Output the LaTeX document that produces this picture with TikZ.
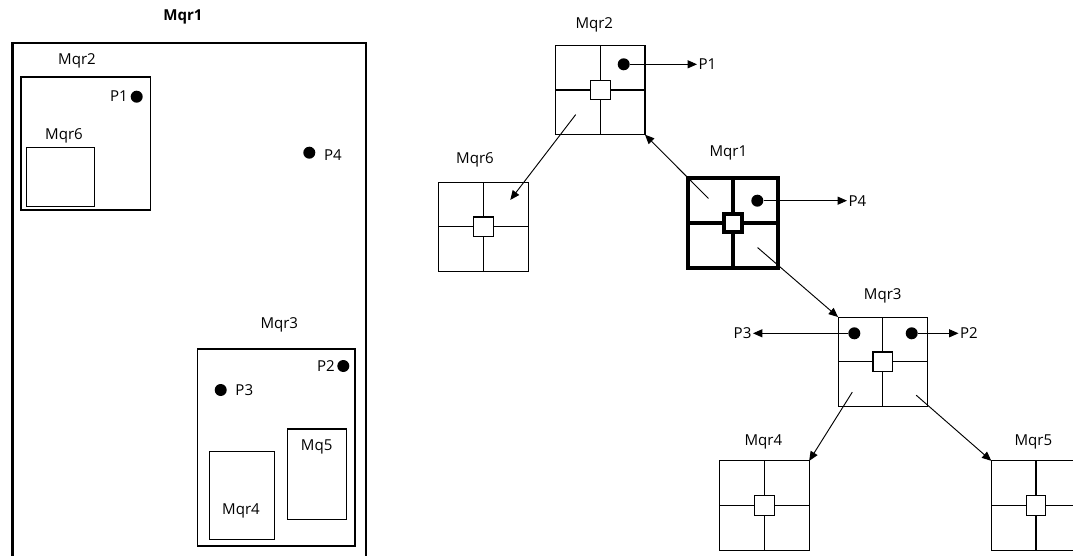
\documentclass[tikz,border=0pt]{standalone}
\usepackage{fontspec}
\setmainfont{Open Sans}
\usepackage{tikz}
\usetikzlibrary{arrows.meta}
\usetikzlibrary{calc}
\tikzset{
  quadro/.style={draw, line width=#1, minimum size=67pt, inner sep=0pt, outer sep=0pt,
    path picture={\draw[line width=#1] (path picture bounding box.north) -- (path picture bounding box.south)
      (path picture bounding box.west) -- (path picture bounding box.east);}},
  quadro/.default=0.8pt,
  centro/.style={draw, fill=white, line width=#1, minimum size=14.6pt, inner sep=0pt, outer sep=0pt},
  centro/.default=0.8pt,
  ponto/.style={circle, fill=black, minimum size=9pt, inner sep=0pt},
  rotulo/.style={inner sep=1pt},
  regiao/.style={draw, line width=0.8pt},
  moldura/.style={draw, line width=2.2pt, line join=miter},
  seta/.style={-{Triangle[length=7pt,width=6pt]}, line width=0.7pt},
}
\begin{document}
\begin{tikzpicture}[x=0.75pt, y=-0.75pt, font=\fontsize{11.3}{13.5}\selectfont]
  \useasboundingbox (0,0) rectangle (1073,556);
  \clip (0,0) rectangle (1073,556);
  % regioes (lado esquerdo)
  \node[rotulo, font=\fontsize{11.3}{13.5}\selectfont\bfseries] (tm1) at (183,17) {Mqr1};
  \draw[moldura] (12.5,560) -- (12.5,43) -- (366,43) -- (366,560);
  \draw[regiao] (21,77) rectangle (150.7,210);
  \draw[regiao] (26.7,147.7) rectangle (94.3,206.7);
  \draw[regiao] (197.3,349) rectangle (355,546);
  \draw[regiao] (287.3,429) rectangle (346.7,519.3);
  \draw[regiao] (209.3,451.7) rectangle (274.7,539.3);
  \node[rotulo] (tm2) at (77,61) {Mqr2};
  \node[rotulo] (tm6) at (64,136) {Mqr6};
  \node[rotulo] (tm3) at (279.3,325) {Mqr3};
  \node[rotulo] (tm5) at (316.7,446.7) {Mq5};
  \node[rotulo] (tm4) at (241,510.7) {Mqr4};
  \node[ponto] (p1) at (136.7,96.7) {};
  \node[rotulo] (lp1) at (119,96.5) {P1};
  \node[ponto] (p4) at (309.3,152.7) {};
  \node[rotulo] (lp4) at (333,155) {P4};
  \node[ponto] (p2) at (343.3,366) {};
  \node[rotulo] (lp2) at (326,366) {P2};
  \node[ponto] (p3) at (220.7,390) {};
  \node[rotulo] (lp3) at (244.3,390) {P3};

  % arvore (lado direito)
  \node[quadro] (q2) at (600.3,90) {};
  \node[centro] (c2) at (q2) {};
  \node[rotulo] (n2) at (594.3,25) {Mqr2};
  \node[quadro] (q6) at (483.5,226.7) {};
  \node[centro] (c6) at (q6) {};
  \node[rotulo] (n6) at (475,160) {Mqr6};
  \node[quadro=3pt] (q1) at (733,223) {};
  \node[centro=3pt, minimum size=13.2pt] (c1) at (q1) {};
  \node[rotulo] (n1) at (728.3,153.3) {Mqr1};
  \node[quadro] (q3) at (882.7,361.7) {};
  \node[centro] (c3) at (q3) {};
  \node[rotulo] (n3) at (882.7,296) {Mqr3};
  \node[quadro] (q4) at (764.5,505.5) {};
  \node[centro] (c4) at (q4) {};
  \node[rotulo] (n4) at (763.3,441.7) {Mqr4};
  \node[quadro] (q5) at (1036,505.5) {};
  \node[centro] (c5) at (q5) {};
  \node[rotulo] (n5) at (1033.3,441.7) {Mqr5};

  % pontos e ligacoes
  \node[ponto] (r1) at (623.7,64.3) {};
  \node[rotulo, anchor=west] (lr1) at (697,64.3) {P1};
  \node[ponto] (r4) at (757.3,200.7) {};
  \node[rotulo, anchor=west] (lr4) at (847,200.7) {P4};
  \node[ponto] (r3) at (854.3,333.3) {};
  \node[rotulo, anchor=east] (lr3) at (753,333.3) {P3};
  \node[ponto] (r2) at (911.7,333.3) {};
  \node[rotulo, anchor=west] (lr2) at (958.5,333.3) {P2};
  \draw[seta] (r1) -- (lr1.west);
  \draw[seta] (r4) -- (lr4.west);
  \draw[seta] (r3) -- (lr3.east);
  \draw[seta] (r2) -- (lr2.west);
  \draw[seta] ($(q2)!0.55!(q2.south west)$) -- ($(q6)!0.6!(q6.north east)$);
  \draw[seta] ($(q1)!0.55!(q1.north west)$) -- (q2.south east);
  \draw[seta] ($(q1)!0.55!(q1.south east)$) -- (q3.north west);
  \draw[seta] ($(q3)!0.68!(q3.south west)$) -- (q4.north east);
  \draw[seta] ($(q3)!0.75!(q3.south east)$) -- (q5.north west);
\end{tikzpicture}
\end{document}
